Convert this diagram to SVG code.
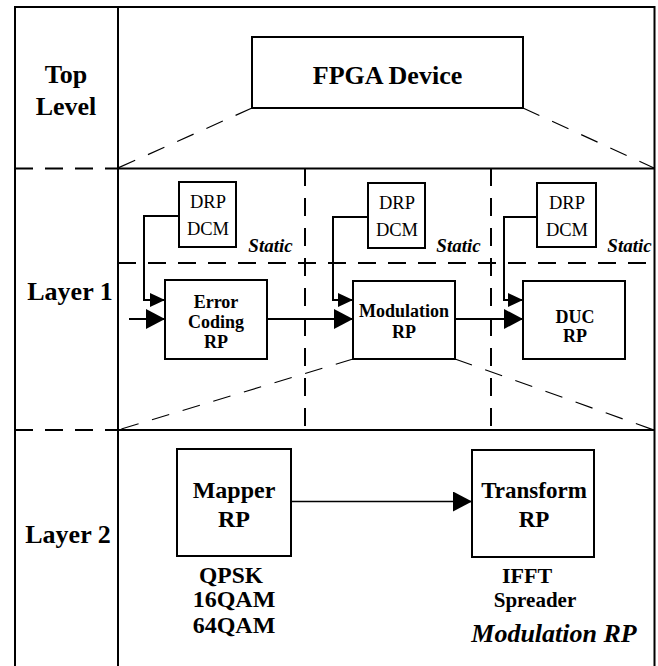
<svg xmlns="http://www.w3.org/2000/svg" width="658" height="666" viewBox="0 0 658 666">
<style>
.frame{stroke:#000;stroke-width:2;fill:none}
.box{stroke:#000;stroke-width:2;fill:#fff}
.dash{stroke:#000;stroke-width:2;fill:none;stroke-dasharray:18 12}
.diag{stroke:#000;stroke-width:1.2;fill:none;stroke-dasharray:18 14}
.conn{stroke:#000;stroke-width:2;fill:none}
.thin{stroke:#000;stroke-width:1.3;fill:none}
text{fill:#000;text-anchor:middle}
.b{font-weight:bold}
.bi{font-weight:bold;font-style:italic}
</style>
<defs>
<marker id="big" markerWidth="20" markerHeight="22" refX="19" refY="10" orient="auto" markerUnits="userSpaceOnUse">
<path d="M0,0 L19,10 L0,20 Z" fill="#000"/>
</marker>
<marker id="small" markerWidth="16" markerHeight="16" refX="15" refY="7" orient="auto" markerUnits="userSpaceOnUse">
<path d="M0,0 L15,7 L0,14 Z" fill="#000"/>
</marker>
</defs>
<g font-family="'Liberation Serif', 'Times New Roman', 'DejaVu Serif', serif">
<g id="frame">
<line class="frame" x1="15" y1="7" x2="654.5" y2="7"/>
<line class="frame" x1="15" y1="6" x2="15" y2="666"/>
<line class="frame" x1="654.5" y1="6" x2="654.5" y2="666"/>
<line class="frame" x1="118" y1="6" x2="118" y2="666"/>
<line class="dash" x1="15" y1="168.5" x2="118" y2="168.5"/>
<line class="frame" x1="118" y1="168.5" x2="654.5" y2="168.5"/>
<line class="dash" x1="15" y1="430" x2="118" y2="430"/>
<line class="frame" x1="118" y1="430" x2="654.5" y2="430"/>
<line class="dash" x1="305" y1="168" x2="305" y2="432"/>
<line class="dash" x1="491" y1="168" x2="491" y2="432"/>
<line class="dash" x1="118" y1="263" x2="654" y2="263"/>
<line class="diag" x1="252" y1="108" x2="118" y2="168"/>
<line class="diag" x1="523" y1="108" x2="654" y2="168"/>
<line class="diag" x1="353" y1="359" x2="118" y2="430"/>
<line class="diag" x1="455" y1="359" x2="654" y2="430"/>
</g>

<g id="labels">
<text class="b" x="66" y="83" font-size="26">Top</text>
<text class="b" x="66" y="115" font-size="26">Level</text>
<text class="b" x="70" y="300" font-size="26">Layer 1</text>
<text class="b" x="68" y="543" font-size="26">Layer 2</text>
<text class="bi" x="270.5" y="252" font-size="19">Static</text>
<text class="bi" x="458.5" y="252" font-size="19">Static</text>
<text class="bi" x="629.5" y="252" font-size="19">Static</text>
<text class="bi" x="554" y="642" font-size="26">Modulation RP</text>
</g>

<g id="fpga">
<rect class="box" x="252" y="37" width="271" height="71"/>
<text class="b" x="387.5" y="84" font-size="26">FPGA Device</text>
</g>

<g id="drp1">
<rect class="box" x="179" y="182" width="57" height="65"/>
<text x="208" y="208" font-size="18.5">DRP</text>
<text x="208" y="235" font-size="18.5">DCM</text>
</g>
<g id="drp2">
<rect class="box" x="368" y="183" width="57" height="65"/>
<text x="397" y="209" font-size="18.5">DRP</text>
<text x="397" y="236" font-size="18.5">DCM</text>
</g>
<g id="drp3">
<rect class="box" x="537" y="183" width="59" height="64"/>
<text x="567" y="209" font-size="18.5">DRP</text>
<text x="567" y="236" font-size="18.5">DCM</text>
</g>

<g id="errorcoding">
<rect class="box" x="165" y="280" width="102" height="79"/>
<text class="b" x="216" y="308" font-size="18">Error</text>
<text class="b" x="216" y="328" font-size="18">Coding</text>
<text class="b" x="216" y="348" font-size="18">RP</text>
</g>
<g id="modulation">
<rect class="box" x="353" y="281" width="102" height="78"/>
<text class="b" x="404" y="317" font-size="18">Modulation</text>
<text class="b" x="404" y="338" font-size="18">RP</text>
</g>
<g id="duc">
<rect class="box" x="523" y="281" width="102" height="78"/>
<text class="b" x="575" y="323" font-size="18">DUC</text>
<text class="b" x="575" y="342" font-size="18">RP</text>
</g>

<g id="mapper">
<rect class="box" x="177" y="449" width="114" height="107"/>
<text class="b" x="234" y="498" font-size="24">Mapper</text>
<text class="b" x="234" y="527" font-size="24">RP</text>
<text class="b" x="231" y="583" font-size="23.5">QPSK</text>
<text class="b" x="234" y="607" font-size="24">16QAM</text>
<text class="b" x="234" y="633" font-size="24">64QAM</text>
</g>
<g id="transform">
<rect class="box" x="472" y="450" width="122" height="107"/>
<text class="b" x="534" y="498" font-size="23">Transform</text>
<text class="b" x="534" y="527" font-size="23">RP</text>
<text class="b" x="527" y="583" font-size="22">IFFT</text>
<text class="b" x="535" y="607" font-size="21">Spreader</text>
</g>

<g id="connectors">
<polyline class="conn" points="179,216 144,216 144,300 165,300" marker-end="url(#small)"/>
<polyline class="conn" points="368,217 333,217 333,300 353,300" marker-end="url(#small)"/>
<polyline class="conn" points="537,217 504,217 504,300 523,300" marker-end="url(#small)"/>
<line class="conn" x1="129" y1="319" x2="165" y2="319" marker-end="url(#big)"/>
<line class="conn" x1="267" y1="319" x2="353" y2="319" marker-end="url(#big)"/>
<line class="conn" x1="455" y1="319" x2="523" y2="319" marker-end="url(#big)"/>
<line class="thin" x1="291" y1="501.5" x2="472" y2="501.5" marker-end="url(#big)"/>
</g>
</g>
</svg>
